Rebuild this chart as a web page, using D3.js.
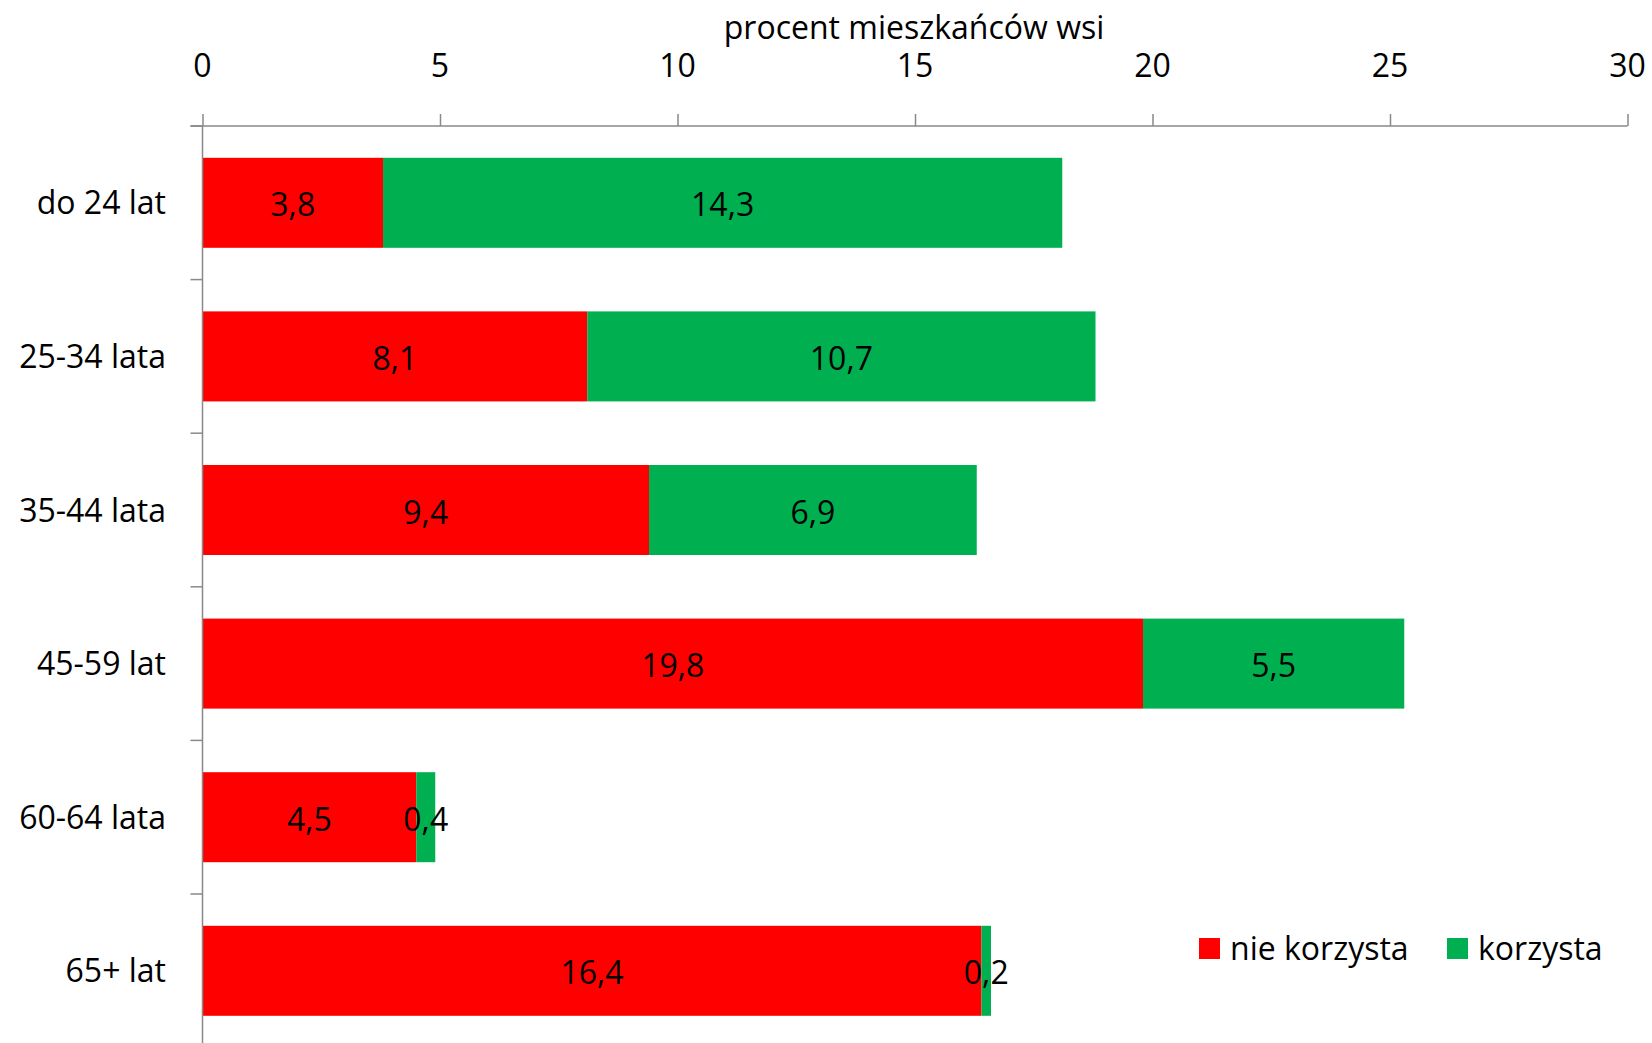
<!DOCTYPE html>
<html>
<head>
<meta charset="utf-8">
<script src="https://cdn.jsdelivr.net/npm/d3@7"></script>
<style>
  html, body { margin: 0; padding: 0; background: #fff; }
  svg { display: block; }
  text { font-family: 'Open Sans', 'Noto Sans', sans-serif; fill: #000; }
</style>
</head>
<body>
<svg id="chart" width="1652" height="1043"></svg>
<script>
const categories = ["do 24 lat", "25-34 lata", "35-44 lata", "45-59 lat", "60-64 lata", "65+ lat"];
const nieKorzysta = [3.8, 8.1, 9.4, 19.8, 4.5, 16.4];
const korzysta = [14.3, 10.7, 6.9, 5.5, 0.4, 0.2];
const seriesNames = ["nie korzysta", "korzysta"];
const seriesColors = ["#FF0000", "#00B050"];
const xTicks = [0, 5, 10, 15, 20, 25, 30];
const axisTitle = "procent mieszkańców wsi";

const svg = d3.select("#chart");
const fontSize = 32;
const axisColor = "#898989";

const x = d3.scaleLinear().domain([0, 30]).range([202.5, 1627.5]);
const axisY = 126;
const step = 153.6;
const y = d3.scaleBand().domain(categories)
  .range([axisY, axisY + step * categories.length])
  .paddingInner(0.414).paddingOuter(0.207);

const fmt = v => String(v).replace(".", ",");

// bars
const rows = categories.map((c, i) => ({ cat: c, vals: [nieKorzysta[i], korzysta[i]] }));
rows.forEach(r => {
  let start = 0;
  r.vals.forEach((v, s) => {
    svg.append("rect")
      .attr("x", x(start))
      .attr("y", y(r.cat))
      .attr("width", x(start + v) - x(start))
      .attr("height", y.bandwidth())
      .attr("fill", seriesColors[s]);
    svg.append("text")
      .attr("x", (x(start) + x(start + v)) / 2)
      .attr("y", y(r.cat) + y.bandwidth() / 2 + 1)
      .attr("text-anchor", "middle")
      .attr("dominant-baseline", "central")
      .attr("font-size", fontSize)
      .text(fmt(v));
    start += v;
  });
});

// x axis (top)
const xAxis = d3.axisTop(x).tickValues(xTicks).tickSize(12).tickPadding(0).tickFormat(d => d);
const gx = svg.append("g").attr("transform", `translate(0,${axisY})`).call(xAxis);
gx.select(".domain").remove();
gx.selectAll(".tick line").attr("stroke", axisColor).attr("stroke-width", 1.5);
gx.selectAll(".tick text").remove();
gx.append("line").attr("x1", 190.5).attr("x2", x(30)).attr("y1", 0).attr("y2", 0)
  .attr("stroke", axisColor).attr("stroke-width", 1.5);
svg.selectAll(".xlab").data(xTicks).enter().append("text")
  .attr("class", "xlab")
  .attr("x", d => x(d))
  .attr("y", 64)
  .attr("text-anchor", "middle")
  .attr("dominant-baseline", "central")
  .attr("font-size", fontSize)
  .text(d => d);

// axis title
svg.append("text")
  .attr("x", 914)
  .attr("y", 26)
  .attr("text-anchor", "middle")
  .attr("dominant-baseline", "central")
  .attr("font-size", fontSize)
  .text(axisTitle);

// y axis
svg.append("line").attr("x1", x(0)).attr("x2", x(0)).attr("y1", axisY).attr("y2", 1043)
  .attr("stroke", axisColor).attr("stroke-width", 1.5);
const bounds = d3.range(categories.length + 1).map(i => axisY + i * y.step());
svg.selectAll(".ytick").data(bounds).enter().append("line")
  .attr("x1", x(0) - 12).attr("x2", x(0))
  .attr("y1", d => d).attr("y2", d => d)
  .attr("stroke", axisColor).attr("stroke-width", 1.5);
svg.selectAll(".ylab").data(categories).enter().append("text")
  .attr("x", 166)
  .attr("y", d => y(d) + y.bandwidth() / 2 - 1)
  .attr("text-anchor", "end")
  .attr("dominant-baseline", "central")
  .attr("font-size", fontSize)
  .text(d => d);

// legend
const legendX = [1199, 1447];
seriesNames.forEach((n, i) => {
  svg.append("rect").attr("x", legendX[i]).attr("y", 938).attr("width", 21).attr("height", 21)
    .attr("fill", seriesColors[i]);
  svg.append("text").attr("x", legendX[i] + 31).attr("y", 947)
    .attr("dominant-baseline", "central")
    .attr("font-size", fontSize)
    .text(n);
});
</script>
</body>
</html>
